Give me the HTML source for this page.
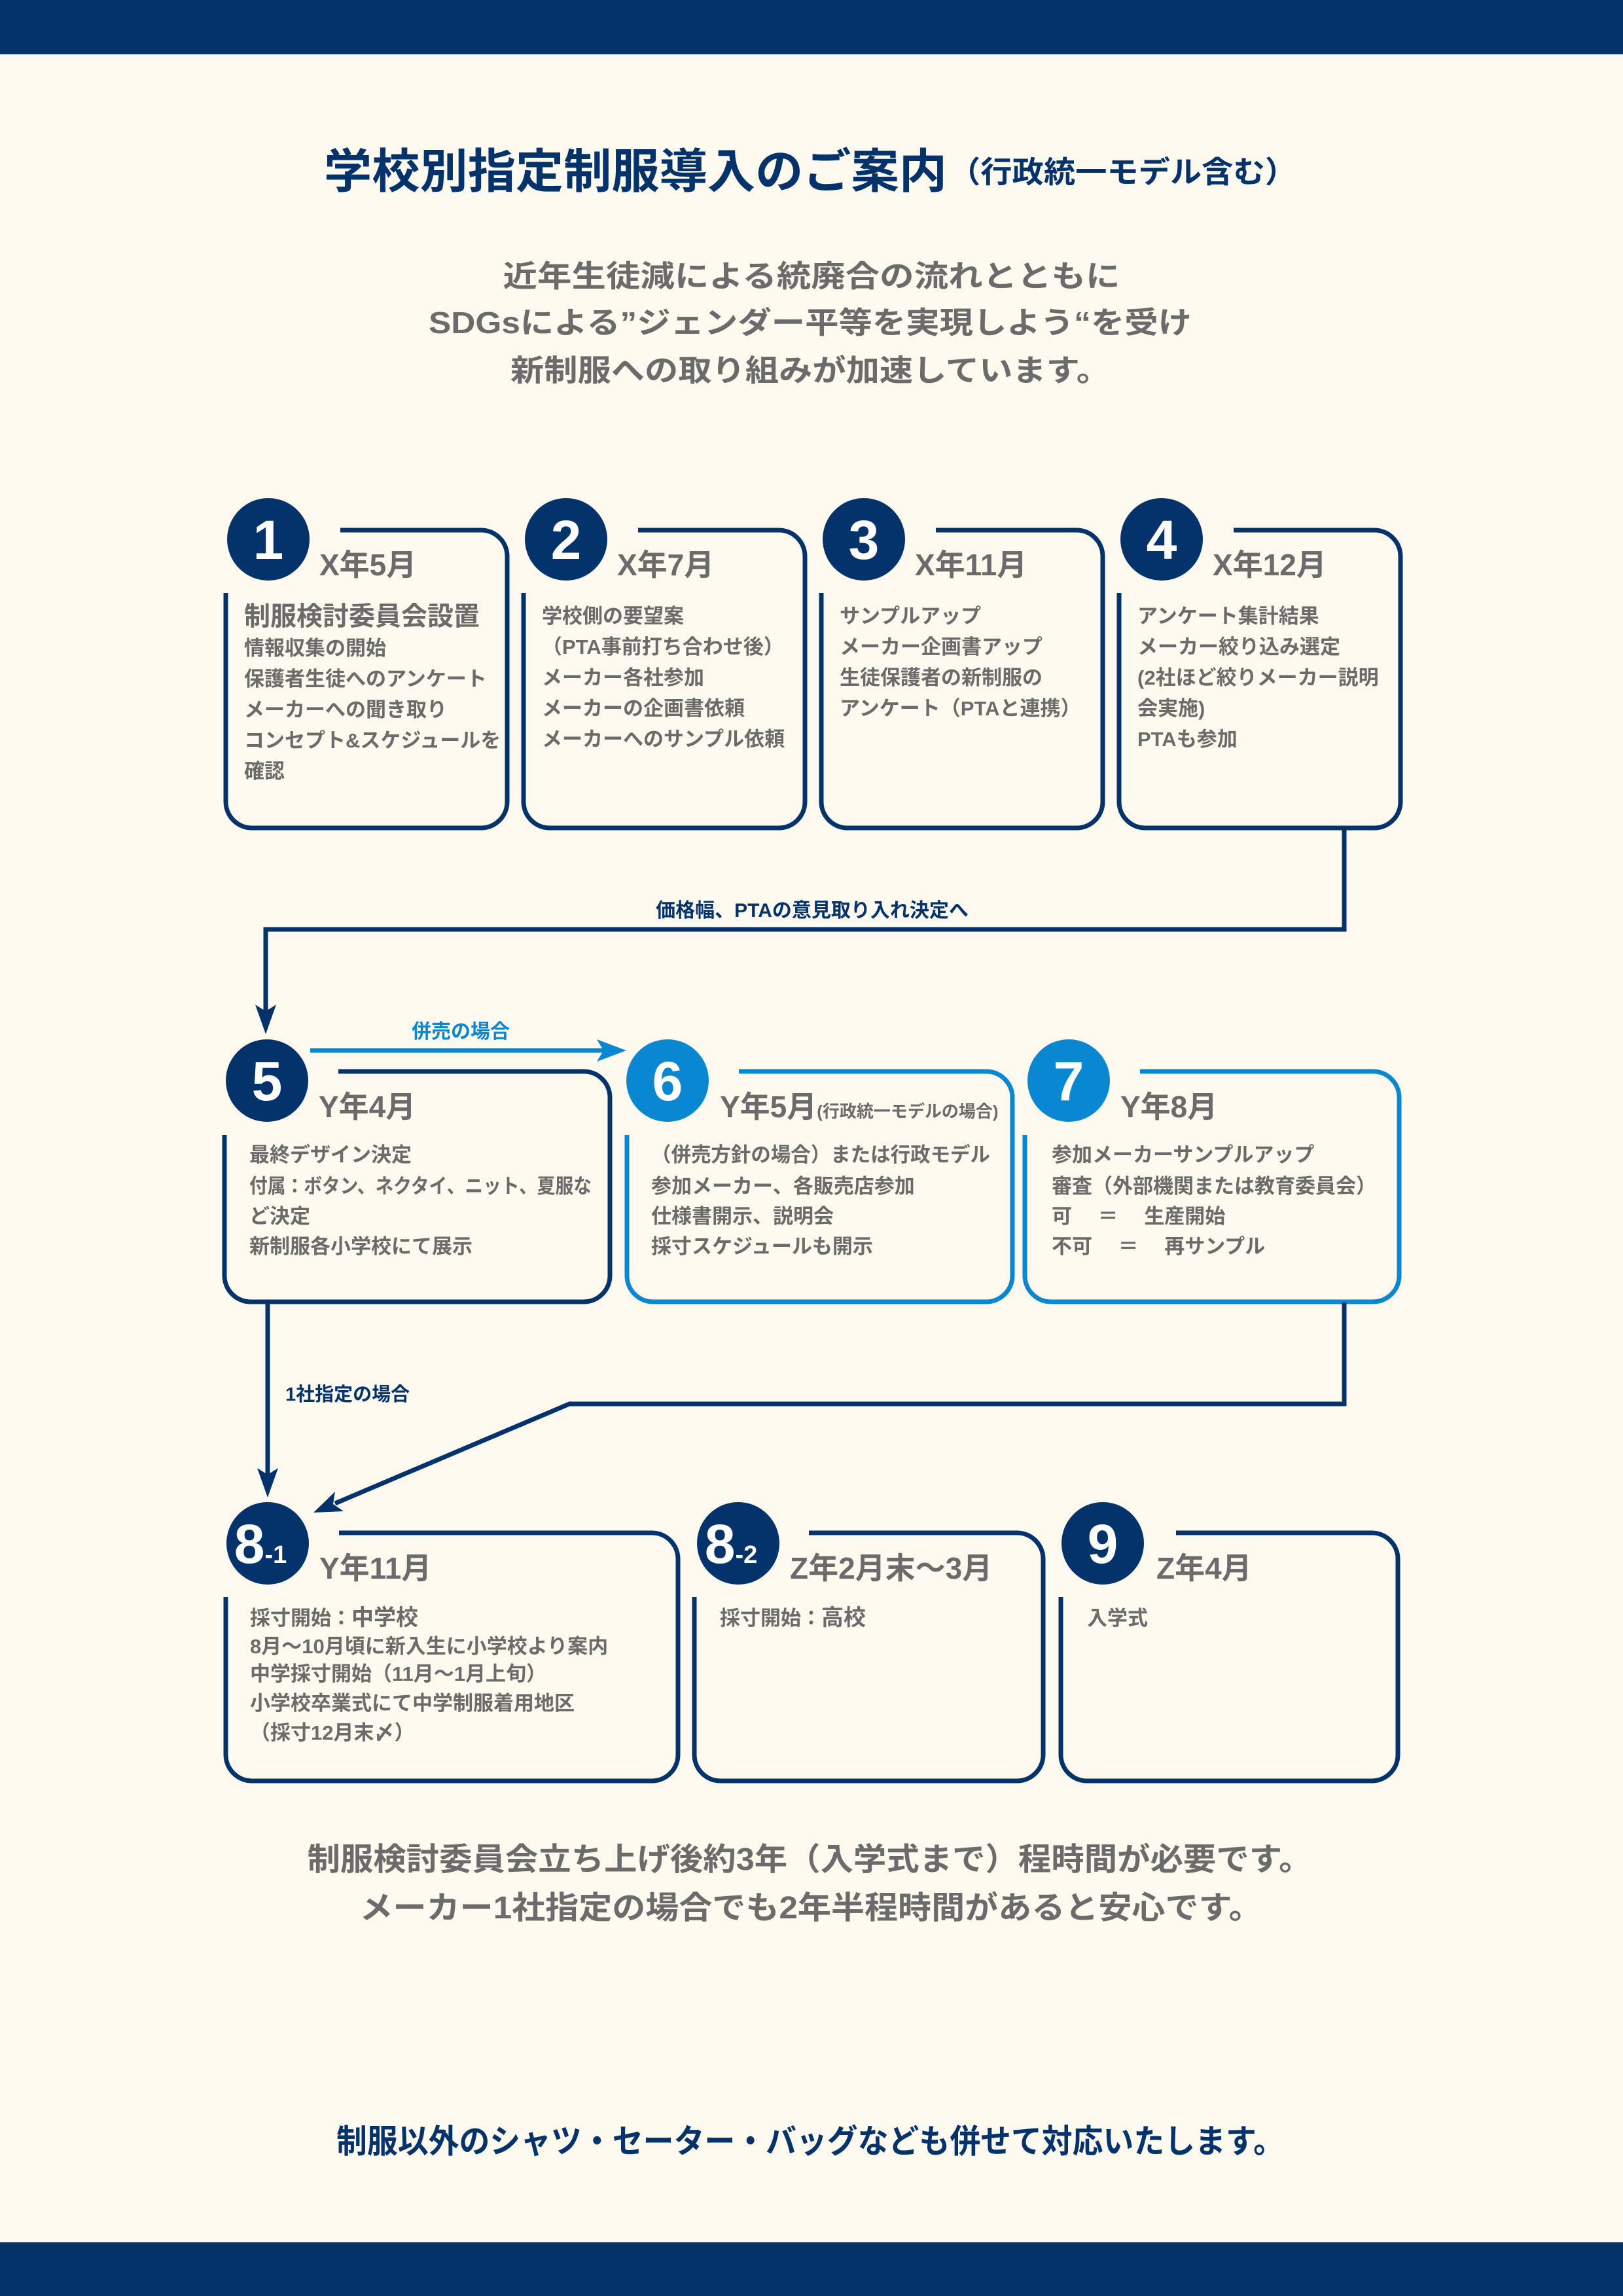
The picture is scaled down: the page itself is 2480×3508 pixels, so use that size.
<!DOCTYPE html>
<html><head><meta charset="utf-8"><style>
html,body{margin:0;padding:0;background:#fdf9ef;}
svg{display:block;}
text{font-family:"Liberation Sans","Noto Sans CJK JP",sans-serif;font-weight:bold;}
.g{fill:#6b6b6b;}
.n{fill:#04336b;}
.b{fill:#0a87d1;}
.num{fill:#fff;font-size:84px;text-anchor:middle;}
.t{font-size:46px;fill:#6b6b6b;}
.d{font-size:31px;fill:#6b6b6b;}
</style></head><body>
<svg width="2480" height="3508" viewBox="0 0 2480 3508" xmlns="http://www.w3.org/2000/svg">
<rect width="2480" height="3508" fill="#fdf9ef"/>
<rect x="0" y="0" width="2480" height="83" fill="#04336b"/>
<rect x="0" y="3426" width="2480" height="82" fill="#04336b"/>

<!-- Heading -->
<text x="495" y="287" class="n" font-size="72" textLength="952" lengthAdjust="spacingAndGlyphs">学校別指定制服導入のご案内</text>
<text x="1450" y="279" class="n" font-size="46" textLength="531" lengthAdjust="spacingAndGlyphs">（行政統一モデル含む）</text>

<text x="1240" y="438" class="g" font-size="46" text-anchor="middle" textLength="943" lengthAdjust="spacingAndGlyphs">近年生徒減による統廃合の流れとともに</text>
<text x="1238" y="509" class="g" font-size="46" text-anchor="middle" textLength="1166" lengthAdjust="spacingAndGlyphs">SDGsによる”ジェンダー平等を実現しよう“を受け</text>
<text x="1238" y="582" class="g" font-size="46" text-anchor="middle" textLength="916" lengthAdjust="spacingAndGlyphs">新制服への取り組みが加速しています。</text>

<!-- Row 1 boxes -->
<g fill="none" stroke="#04336b" stroke-width="7">
<path d="M520,810 H735 A40,40 0 0 1 775,850 V1225 A40,40 0 0 1 735,1265 H385 A40,40 0 0 1 345,1225 V906"/>
<path d="M975,810 H1190 A40,40 0 0 1 1230,850 V1225 A40,40 0 0 1 1190,1265 H840 A40,40 0 0 1 800,1225 V906"/>
<path d="M1430,810 H1645 A40,40 0 0 1 1685,850 V1225 A40,40 0 0 1 1645,1265 H1295 A40,40 0 0 1 1255,1225 V906"/>
<path d="M1885,810 H2100 A40,40 0 0 1 2140,850 V1225 A40,40 0 0 1 2100,1265 H1750 A40,40 0 0 1 1710,1225 V906"/>
</g>
<g fill="#04336b">
<circle cx="410" cy="824" r="63"/><circle cx="865" cy="824" r="63"/><circle cx="1320" cy="824" r="63"/><circle cx="1775" cy="824" r="63"/>
</g>
<text class="num" x="410" y="854">1</text><text class="num" x="865" y="854">2</text><text class="num" x="1320" y="854">3</text><text class="num" x="1775" y="854">4</text>
<text class="t" x="488" y="879">X年5月</text>
<text class="t" x="943" y="879">X年7月</text>
<text class="t" x="1398" y="879">X年11月</text>
<text class="t" x="1853" y="879">X年12月</text>

<text x="373" y="955" class="g" font-size="40">制服検討委員会設置</text>
<text class="d" x="373" y="1001">情報収集の開始</text>
<text class="d" x="373" y="1048">保護者生徒へのアンケート</text>
<text class="d" x="373" y="1095">メーカーへの聞き取り</text>
<text class="d" x="373" y="1142">コンセプト&amp;スケジュールを</text>
<text class="d" x="373" y="1189">確認</text>

<text class="d" x="828" y="952">学校側の要望案</text>
<text class="d" x="828" y="999">（PTA事前打ち合わせ後）</text>
<text class="d" x="828" y="1046">メーカー各社参加</text>
<text class="d" x="828" y="1093">メーカーの企画書依頼</text>
<text class="d" x="828" y="1140">メーカーへのサンプル依頼</text>

<text class="d" x="1283" y="952">サンプルアップ</text>
<text class="d" x="1283" y="999">メーカー企画書アップ</text>
<text class="d" x="1283" y="1046">生徒保護者の新制服の</text>
<text class="d" x="1283" y="1093">アンケート（PTAと連携）</text>

<text class="d" x="1738" y="952">アンケート集計結果</text>
<text class="d" x="1738" y="999">メーカー絞り込み選定</text>
<text class="d" x="1738" y="1046">(2社ほど絞りメーカー説明</text>
<text class="d" x="1738" y="1093">会実施)</text>
<text class="d" x="1738" y="1140">PTAも参加</text>

<!-- connector 4 -> 5 -->
<polyline points="2054,1265 2054,1420 406,1420 406,1545" fill="none" stroke="#04336b" stroke-width="7"/>
<polygon points="406,1580 390,1535 406,1545 422,1535" fill="#04336b"/>
<text x="1241" y="1401" class="n" font-size="30" text-anchor="middle">価格幅、PTAの意見取り入れ決定へ</text>

<!-- blue arrow 5 -> 6 -->
<line x1="474" y1="1605" x2="925" y2="1605" stroke="#0a87d1" stroke-width="7"/>
<polygon points="957,1605 912,1588 922,1605 912,1622" fill="#0a87d1"/>
<text x="704" y="1586" class="b" font-size="30" text-anchor="middle">併売の場合</text>

<!-- Row 2 boxes -->
<path d="M517,1637 H892 A40,40 0 0 1 932,1677 V1949 A40,40 0 0 1 892,1989 H383 A40,40 0 0 1 343,1949 V1734" fill="none" stroke="#04336b" stroke-width="7"/>
<path d="M1129,1637 H1507 A40,40 0 0 1 1547,1677 V1949 A40,40 0 0 1 1507,1989 H998 A40,40 0 0 1 958,1949 V1734" fill="none" stroke="#0a87d1" stroke-width="7"/>
<path d="M1742,1637 H2098 A40,40 0 0 1 2138,1677 V1949 A40,40 0 0 1 2098,1989 H1606 A40,40 0 0 1 1566,1949 V1734" fill="none" stroke="#0a87d1" stroke-width="7"/>
<circle cx="408" cy="1651" r="63" fill="#04336b"/>
<circle cx="1020" cy="1651" r="63" fill="#0a87d1"/>
<circle cx="1633" cy="1651" r="63" fill="#0a87d1"/>
<text class="num" x="408" y="1681">5</text><text class="num" x="1020" y="1681">6</text><text class="num" x="1633" y="1681">7</text>
<text class="t" x="487" y="1707">Y年4月</text>
<text class="t" x="1100" y="1707">Y年5月<tspan font-size="26">(行政統一モデルの場合)</tspan></text>
<text class="t" x="1712" y="1707">Y年8月</text>

<text class="d" x="381" y="1775">最終デザイン決定</text>
<text class="d" x="381" y="1823" textLength="523" lengthAdjust="spacingAndGlyphs">付属：ボタン、ネクタイ、ニット、夏服な</text>
<text class="d" x="381" y="1869">ど決定</text>
<text class="d" x="381" y="1915">新制服各小学校にて展示</text>

<text class="d" x="995" y="1775" textLength="518" lengthAdjust="spacingAndGlyphs">（併売方針の場合）または行政モデル</text>
<text class="d" x="995" y="1823">参加メーカー、各販売店参加</text>
<text class="d" x="995" y="1869">仕様書開示、説明会</text>
<text class="d" x="995" y="1915">採寸スケジュールも開示</text>

<text class="d" x="1607" y="1775">参加メーカーサンプルアップ</text>
<text class="d" x="1607" y="1823">審査（外部機関または教育委員会）</text>
<text class="d" x="1607" y="1869" xml:space="preserve">可　 ＝ 　生産開始</text>
<text class="d" x="1607" y="1915" xml:space="preserve">不可 　＝ 　再サンプル</text>

<!-- connectors to 8-1 -->
<line x1="409" y1="1989" x2="409" y2="2255" stroke="#04336b" stroke-width="7"/>
<polygon points="409,2288 393,2243 409,2253 425,2243" fill="#04336b"/>
<text x="436" y="2140" class="n" font-size="29">1社指定の場合</text>
<polyline points="2054,1990 2054,2145 870,2145 512,2297" fill="none" stroke="#04336b" stroke-width="7"/>
<polygon points="479,2311 525,2309 509,2298 512,2279" fill="#04336b"/>

<!-- Row 3 boxes -->
<g fill="none" stroke="#04336b" stroke-width="7">
<path d="M518,2342 H996 A40,40 0 0 1 1036,2382 V2681 A40,40 0 0 1 996,2721 H385 A40,40 0 0 1 345,2681 V2440"/>
<path d="M1236,2342 H1554 A40,40 0 0 1 1594,2382 V2681 A40,40 0 0 1 1554,2721 H1101 A40,40 0 0 1 1061,2681 V2440"/>
<path d="M1797,2342 H2096 A40,40 0 0 1 2136,2382 V2681 A40,40 0 0 1 2096,2721 H1661 A40,40 0 0 1 1621,2681 V2440"/>
</g>
<g fill="#04336b">
<circle cx="409" cy="2358" r="63"/><circle cx="1128" cy="2358" r="63"/><circle cx="1685" cy="2358" r="63"/>
</g>
<text class="num" x="398" y="2388" text-anchor="middle">8<tspan font-size="38">-1</tspan></text>
<text class="num" x="1117" y="2388">8<tspan font-size="38">-2</tspan></text>
<text class="num" x="1685" y="2388">9</text>
<text class="t" x="488" y="2412">Y年11月</text>
<text class="t" x="1207" y="2412">Z年2月末～3月</text>
<text class="t" x="1767" y="2412">Z年4月</text>

<text class="d" x="382" y="2483">採寸開始：<tspan font-size="34">中学校</tspan></text>
<text class="d" x="382" y="2526">8月～10月頃に新入生に小学校より案内</text>
<text class="d" x="382" y="2568">中学採寸開始（11月～1月上旬）</text>
<text class="d" x="382" y="2613">小学校卒業式にて中学制服着用地区</text>
<text class="d" x="382" y="2658">（採寸12月末〆）</text>

<text class="d" x="1100" y="2483">採寸開始：<tspan font-size="34">高校</tspan></text>
<text class="d" x="1661" y="2483">入学式</text>

<!-- bottom text -->
<text x="1237" y="2857" class="g" font-size="48" text-anchor="middle" textLength="1535" lengthAdjust="spacingAndGlyphs">制服検討委員会立ち上げ後約3年（入学式まで）程時間が必要です。</text>
<text x="1239" y="2931" class="g" font-size="48" text-anchor="middle" textLength="1379" lengthAdjust="spacingAndGlyphs">メーカー1社指定の場合でも2年半程時間があると安心です。</text>
<text x="1238" y="3289" class="n" font-size="50" text-anchor="middle" textLength="1448" lengthAdjust="spacingAndGlyphs">制服以外のシャツ・セーター・バッグなども併せて対応いたします。</text>
</svg>
</body></html>
